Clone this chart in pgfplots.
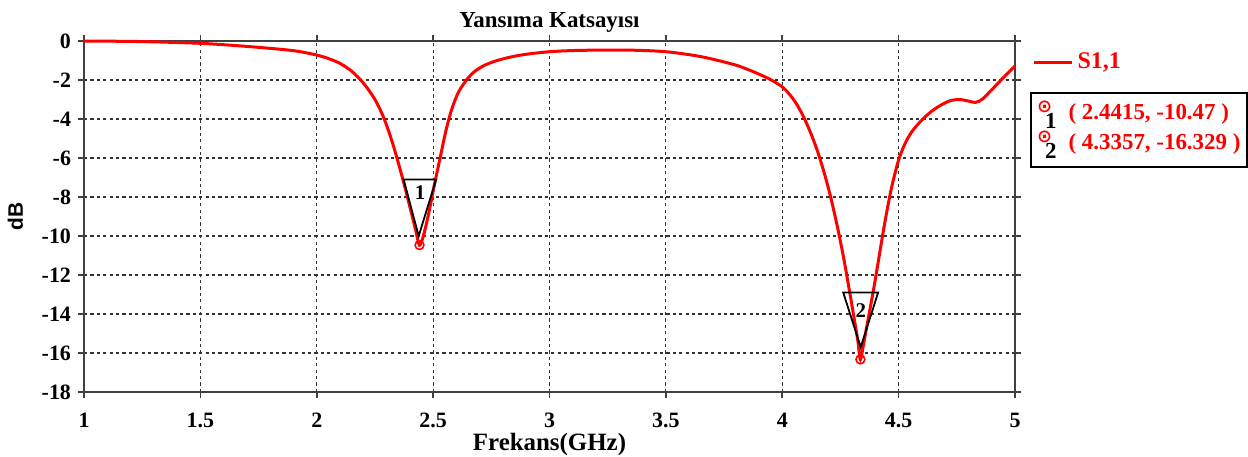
\documentclass[border=0pt]{standalone}
\usepackage{pgfplots}
\pgfplotsset{compat=1.18}
\usepackage{fontspec}
\setmainfont{Liberation Serif}
\newfontfamily\sansf{Liberation Sans}
\newfontfamily\dejavu{DejaVu Sans}
\begin{document}
\begin{tikzpicture}
\useasboundingbox (0,0) rectangle (624bp,228.5bp);
\begin{axis}[
  at={(42bp,32.5bp)}, anchor=south west,
  scale only axis, width=465.5bp, height=175.5bp,
  xmin=1, xmax=5, ymin=-18, ymax=0,
  xtick={1,1.5,...,5}, ytick={-18,-16,...,0},
  grid=major,
  major grid style={black!80, line width=0.6bp, dash pattern=on 1.6bp off 1.6bp},
  axis line style={black!75, line width=0.9bp},
  tick align=outside, tick style={black!75, line width=0.8bp}, major tick length=3bp,
  /pgf/number format/assume math mode=true,
  ticklabel style={font=\fontsize{11}{12}\selectfont\bfseries},
  xticklabel style={yshift=-4bp},
  title={\fontsize{11.5}{13}\selectfont\bfseries Yansıma Katsayısı},
  title style={yshift=-5bp},
  xlabel={\fontsize{12.5}{14}\selectfont\bfseries Frekans(GHz)},
  xlabel style={yshift=4bp},
  ylabel={\fontsize{10.5}{12}\selectfont\sansf\bfseries dB},
  ylabel style={yshift=2.5bp},
  clip=false,
  legend style={at={(rel axis cs:1.012,0.94)}, anchor=west, draw=none, fill=none,
    font=\fontsize{12}{13}\selectfont\bfseries, text=red},
  legend image code/.code={\draw[red, line width=1.5bp] (0bp,0bp) -- (19bp,0bp);},
]
\addplot[draw=none, fill=white, forget plot] coordinates {(2.373,-7.1) (2.513,-7.1) (2.438,-10.0)} -- cycle;
\addplot[draw=none, fill=white, forget plot] coordinates {(4.262,-12.9) (4.412,-12.9) (4.337,-15.7)} -- cycle;
\addplot[red, line width=1.5bp, smooth, tension=0.5] coordinates {
(1.0,0) (1.25,-0.03) (1.5,-0.12) (1.67,-0.25) (1.84,-0.42) (1.92,-0.53)
(2.0,-0.72) (2.05,-0.9) (2.1,-1.15) (2.15,-1.55) (2.2,-2.15) (2.25,-3.0)
(2.29,-4.0) (2.33,-5.4) (2.37,-7.1) (2.40,-8.5) (2.425,-9.7) (2.4415,-10.47)
(2.458,-10.0) (2.48,-8.9) (2.505,-7.4) (2.53,-6.0) (2.555,-4.6) (2.58,-3.5)
(2.61,-2.6) (2.65,-1.9) (2.68,-1.55) (2.72,-1.25) (2.77,-1.02) (2.83,-0.83)
(2.9,-0.68) (3.0,-0.55) (3.1,-0.49) (3.2,-0.47) (3.35,-0.47) (3.5,-0.55)
(3.65,-0.8) (3.79,-1.2) (3.85,-1.45) (3.9,-1.7) (3.95,-1.98) (4.0,-2.35)
(4.03,-2.72) (4.06,-3.2) (4.09,-3.85) (4.12,-4.65) (4.15,-5.6) (4.18,-6.75)
(4.21,-8.1) (4.24,-9.7) (4.265,-11.2) (4.29,-12.9) (4.31,-14.3) (4.325,-15.4)
(4.3357,-16.329) (4.35,-15.5) (4.37,-14.2) (4.39,-12.9)
(4.41,-11.5) (4.43,-10.05) (4.45,-8.7) (4.47,-7.5) (4.5,-6.1) (4.53,-5.2)
(4.56,-4.6) (4.6,-4.05) (4.64,-3.62) (4.68,-3.3) (4.72,-3.07) (4.76,-3.0)
(4.8,-3.08) (4.83,-3.15) (4.86,-2.98) (4.9,-2.5) (4.95,-1.88) (5.0,-1.28)};
\addlegendentry{S1,1}
\addplot[black, line width=0.9bp, forget plot] coordinates {(2.373,-7.1) (2.513,-7.1) (2.438,-10.0)} -- cycle;
\addplot[black, line width=0.9bp, forget plot] coordinates {(4.262,-12.9) (4.412,-12.9) (4.337,-15.7)} -- cycle;
\addplot[only marks, mark=o, mark size=2.2bp, red, line width=0.8bp, forget plot, mark options={fill=white}] coordinates {(2.4415,-10.47) (4.3357,-16.329)};
\addplot[only marks, mark=*, mark size=0.6bp, red, forget plot] coordinates {(2.4415,-10.47) (4.3357,-16.329)};
\node[font=\fontsize{10.5}{12}\selectfont\bfseries] at (axis cs:2.444,-7.75) {1};
\node[font=\fontsize{10.5}{12}\selectfont\bfseries] at (axis cs:4.338,-13.8) {2};
\node[anchor=north west, draw=black, line width=0.9bp, inner sep=2bp, align=left,
  minimum width=108bp, minimum height=37bp,
  font=\fontsize{11.5}{15}\selectfont\bfseries]
  at (rel axis cs:1.016,0.855)
  {\rlap{\raisebox{3.5bp}{\dejavu\fontsize{9}{9}\selectfont\color{red}⊙}}\hspace{4bp}\raisebox{-4.5bp}{\color{black}1}\hspace{6bp}\textcolor{red}{( 2.4415, -10.47 )}\\
   \rlap{\raisebox{3.5bp}{\dejavu\fontsize{9}{9}\selectfont\color{red}⊙}}\hspace{4bp}\raisebox{-4.5bp}{\color{black}2}\hspace{6bp}\textcolor{red}{( 4.3357, -16.329 )}};
\end{axis}
\end{tikzpicture}
\end{document}
